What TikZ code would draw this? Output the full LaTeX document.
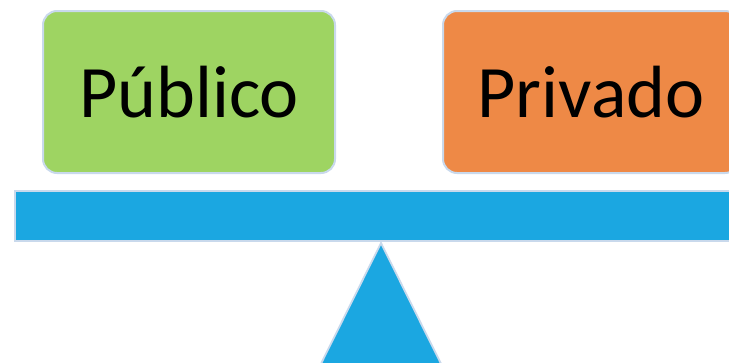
\documentclass[tikz,border=0pt]{standalone}
\usepackage{fontspec}
\setmainfont{Carlito}
\definecolor{boxgreen}{HTML}{9ED462}
\definecolor{boxorange}{HTML}{EE8946}
\definecolor{barblue}{HTML}{1BA7E1}
\definecolor{edgeblue}{HTML}{C9D9EC}
\begin{document}
\begin{tikzpicture}[x=1pt,y=-1pt,
  labelbox/.style={draw=edgeblue,line width=2pt,rounded corners=14pt,
    minimum width=292pt,minimum height=162pt,inner sep=0pt,
    font=\fontsize{74}{80}\selectfont,text=black,anchor=center},
  beam/.style={draw=edgeblue,line width=1.8pt,fill=barblue}]
\useasboundingbox (0,0) rectangle (729,362);
\clip (0,0) rectangle (729,362);
\node[labelbox,fill=boxgreen] (pub) at (189,92) {Público};
\node[labelbox,fill=boxorange,minimum width=296pt] (priv) at (591,92) {Privado};
\node[beam,minimum width=732pt,minimum height=50pt,inner sep=0pt] (bar) at (381,216) {};
\coordinate (apex) at (381,243);
\coordinate (bl) at (302,402);
\coordinate (br) at (460,402);
\draw[beam] (apex) -- (br) -- (bl) -- cycle;
\end{tikzpicture}
\end{document}
